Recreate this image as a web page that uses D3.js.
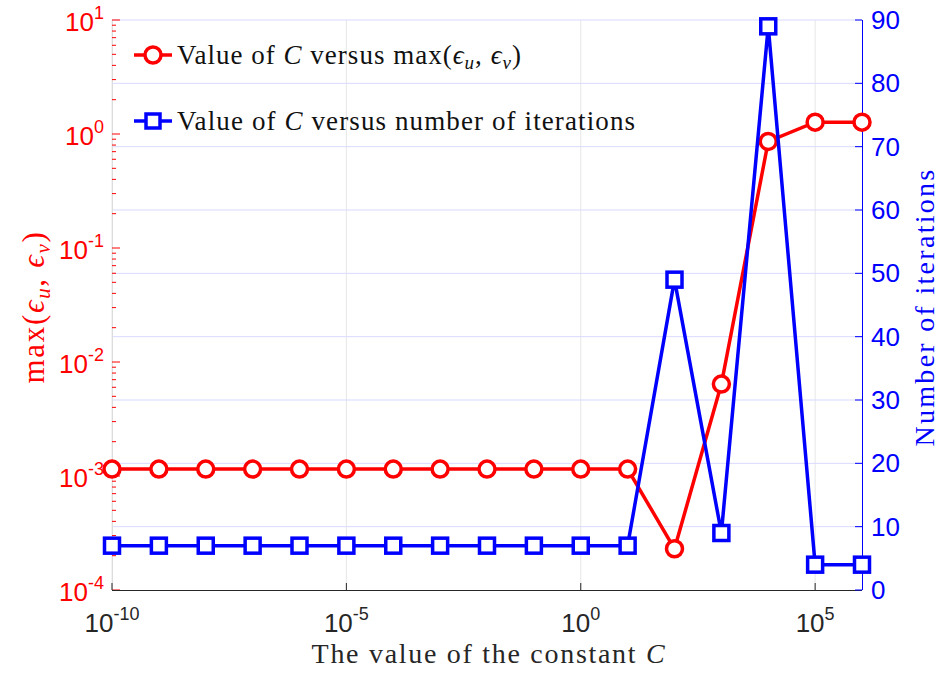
<!DOCTYPE html>
<html>
<head>
<meta charset="utf-8">
<script src="https://cdn.jsdelivr.net/npm/d3@7"></script>
<style>
  body { margin: 0; background: #fff; }
  svg { display: block; }
</style>
</head>
<body>
<div id="chart"></div>
<script>
// values of the constant C
const cValues = [1e-10, 1e-9, 1e-8, 1e-7, 1e-6, 1e-5, 1e-4, 1e-3, 1e-2, 1e-1, 1e0, 1e1, 1e2, 1e3, 1e4, 1e5, 1e6];
// max(eps_u, eps_v)
const errMax = [1.15e-3, 1.15e-3, 1.15e-3, 1.15e-3, 1.15e-3, 1.15e-3, 1.15e-3, 1.15e-3, 1.15e-3, 1.15e-3, 1.15e-3, 1.15e-3, 2.3e-4, 6.4e-3, 0.86, 1.27, 1.27];
// number of iterations
const iterations = [7, 7, 7, 7, 7, 7, 7, 7, 7, 7, 7, 7, 49, 9, 89, 4, 4];

const xTicks = [1e-10, 1e-5, 1e0, 1e5];
const xTickExp = ["-10", "-5", "0", "5"];
const yLeftTicks = [1e-4, 1e-3, 1e-2, 1e-1, 1e0, 1e1];
const yLeftExp = ["-4", "-3", "-2", "-1", "0", "1"];
const yRightTicks = [0, 10, 20, 30, 40, 50, 60, 70, 80, 90];

const width = 940, height = 673;
const pLeft = 112, pRight = 862, pTop = 20, pBottom = 590;
const red = "#ff0000", blue = "#0000ff";
const tickFont = "Liberation Sans, Arial, sans-serif";
const texFont = "Liberation Serif, Times New Roman, serif";

const svg = d3.select("#chart").append("svg")
  .attr("width", width)
  .attr("height", height);

const x = d3.scaleLog().domain([1e-10, 1e6]).range([pLeft, pRight]);
const yL = d3.scaleLog().domain([1e-4, 1e1]).range([pBottom, pTop]);
const yR = d3.scaleLinear().domain([0, 90]).range([pBottom, pTop]);

// stretch serif text to the wider LaTeX look
function fitWidth(sel, target) {
  const node = sel.node();
  const w = node.getComputedTextLength();
  const n = node.textContent.length;
  sel.attr("letter-spacing", ((target - w) / n).toFixed(2));
}

// grid
svg.append("g").selectAll("line")
  .data(xTicks)
  .enter().append("line")
  .attr("x1", d => x(d)).attr("x2", d => x(d))
  .attr("y1", pTop).attr("y2", pBottom)
  .attr("stroke", "#e6e6e6").attr("stroke-width", 1);

svg.append("g").selectAll("line")
  .data(yRightTicks.slice(1))
  .enter().append("line")
  .attr("x1", pLeft).attr("x2", pRight)
  .attr("y1", d => yR(d)).attr("y2", d => yR(d))
  .attr("stroke", "#d9d9ff").attr("stroke-width", 1);

// left axis (log, red ticks)
svg.append("line")
  .attr("x1", pLeft + 0.5).attr("x2", pLeft + 0.5)
  .attr("y1", pTop).attr("y2", pBottom)
  .attr("stroke", "#dcdcdc");

const minor = yL.ticks().filter(d => !yLeftTicks.some(t => Math.abs(t - d) / t < 1e-9));
svg.append("g").selectAll("line")
  .data(minor)
  .enter().append("line")
  .attr("x1", pLeft).attr("x2", pLeft + 4)
  .attr("y1", d => yL(d)).attr("y2", d => yL(d))
  .attr("stroke", red).attr("stroke-width", 1);

svg.append("g").selectAll("line")
  .data(yLeftTicks)
  .enter().append("line")
  .attr("x1", pLeft).attr("x2", pLeft + 8)
  .attr("y1", d => yL(d)).attr("y2", d => yL(d))
  .attr("stroke", red).attr("stroke-width", 1);

const lLab = svg.append("g").selectAll("text")
  .data(yLeftTicks)
  .enter().append("text")
  .attr("x", 104)
  .attr("y", d => yL(d) + 11)
  .attr("text-anchor", "end")
  .attr("font-family", tickFont)
  .attr("font-size", 26)
  .attr("fill", red);
lLab.append("tspan").text("10");
lLab.append("tspan").attr("dy", -12).attr("font-size", 18).text((d, i) => yLeftExp[i]);

// bottom axis
svg.append("line")
  .attr("x1", pLeft).attr("x2", pRight)
  .attr("y1", pBottom + 0.5).attr("y2", pBottom + 0.5)
  .attr("stroke", "#262626").attr("stroke-width", 1.2);

svg.append("g").selectAll("line")
  .data(xTicks)
  .enter().append("line")
  .attr("x1", d => x(d)).attr("x2", d => x(d))
  .attr("y1", pBottom).attr("y2", pBottom - 7)
  .attr("stroke", "#262626");

const xLab = svg.append("g").selectAll("text")
  .data(xTicks)
  .enter().append("text")
  .attr("x", d => x(d))
  .attr("y", 632)
  .attr("text-anchor", "middle")
  .attr("font-family", tickFont)
  .attr("font-size", 26)
  .attr("fill", "#262626");
xLab.append("tspan").text("10");
xLab.append("tspan").attr("dy", -12).attr("font-size", 18).text((d, i) => xTickExp[i]);

// right axis
svg.append("line")
  .attr("x1", pRight + 0.5).attr("x2", pRight + 0.5)
  .attr("y1", pTop).attr("y2", pBottom)
  .attr("stroke", blue).attr("stroke-width", 1);

svg.append("g").selectAll("line")
  .data(yRightTicks)
  .enter().append("line")
  .attr("x1", pRight).attr("x2", pRight - 7)
  .attr("y1", d => yR(d)).attr("y2", d => yR(d))
  .attr("stroke", blue);

svg.append("g").selectAll("text")
  .data(yRightTicks)
  .enter().append("text")
  .attr("x", 871)
  .attr("y", d => yR(d) + 9)
  .attr("font-family", tickFont)
  .attr("font-size", 26)
  .attr("fill", blue)
  .text(d => d);

// series: red first, blue on top
const redLine = d3.line().x((d, i) => x(cValues[i])).y(d => yL(d));
const blueLine = d3.line().x((d, i) => x(cValues[i])).y(d => yR(d));

svg.append("path")
  .datum(errMax)
  .attr("d", redLine)
  .attr("fill", "none").attr("stroke", red).attr("stroke-width", 3.5);

svg.append("g").selectAll("circle")
  .data(errMax)
  .enter().append("circle")
  .attr("cx", (d, i) => x(cValues[i]))
  .attr("cy", d => yL(d))
  .attr("r", 8)
  .attr("fill", "#fff").attr("stroke", red).attr("stroke-width", 3.5);

svg.append("path")
  .datum(iterations)
  .attr("d", blueLine)
  .attr("fill", "none").attr("stroke", blue).attr("stroke-width", 3.5);

svg.append("g").selectAll("rect")
  .data(iterations)
  .enter().append("rect")
  .attr("x", (d, i) => x(cValues[i]) - 7.5)
  .attr("y", d => yR(d) - 7.5)
  .attr("width", 15).attr("height", 15)
  .attr("fill", "#fff").attr("stroke", blue).attr("stroke-width", 3.5);

// legend
const lg = svg.append("g");
lg.append("line").attr("x1", 134).attr("x2", 172).attr("y1", 55).attr("y2", 55)
  .attr("stroke", red).attr("stroke-width", 3.5);
lg.append("circle").attr("cx", 153).attr("cy", 55).attr("r", 8)
  .attr("fill", "#fff").attr("stroke", red).attr("stroke-width", 3.5);
lg.append("line").attr("x1", 134).attr("x2", 172).attr("y1", 121).attr("y2", 121)
  .attr("stroke", blue).attr("stroke-width", 3.5);
lg.append("rect").attr("x", 146).attr("y", 114).attr("width", 14).attr("height", 14)
  .attr("fill", "#fff").attr("stroke", blue).attr("stroke-width", 3.5);

const t1 = lg.append("text").attr("x", 177).attr("y", 64)
  .attr("font-family", texFont).attr("font-size", 27).attr("fill", "#111");
t1.append("tspan").text("Value of ");
t1.append("tspan").attr("font-style", "italic").text("C");
t1.append("tspan").text(" versus max(");
t1.append("tspan").attr("font-style", "italic").text("ϵ");
t1.append("tspan").attr("font-style", "italic").attr("font-size", 19).attr("dy", 5).text("u");
t1.append("tspan").attr("dy", -5).text(", ");
t1.append("tspan").attr("font-style", "italic").text("ϵ");
t1.append("tspan").attr("font-style", "italic").attr("font-size", 19).attr("dy", 5).text("v");
t1.append("tspan").attr("dy", -5).text(")");
fitWidth(t1, 345);

const t2 = lg.append("text").attr("x", 177).attr("y", 130)
  .attr("font-family", texFont).attr("font-size", 27).attr("fill", "#111");
t2.append("tspan").text("Value of ");
t2.append("tspan").attr("font-style", "italic").text("C");
t2.append("tspan").text(" versus number of iterations");
fitWidth(t2, 459);

// axis labels
const xl = svg.append("text")
  .attr("x", 489).attr("y", 663)
  .attr("text-anchor", "middle")
  .attr("font-family", texFont).attr("font-size", 28).attr("fill", "#262626");
xl.append("tspan").text("The value of the constant ");
xl.append("tspan").attr("font-style", "italic").text("C");
fitWidth(xl, 355);

const yl = svg.append("text")
  .attr("transform", `translate(44,307) rotate(-90)`)
  .attr("text-anchor", "middle")
  .attr("font-family", texFont).attr("font-size", 31).attr("fill", red);
yl.append("tspan").text("max(");
yl.append("tspan").attr("font-style", "italic").text("ϵ");
yl.append("tspan").attr("font-style", "italic").attr("font-size", 21).attr("dy", 6).text("u");
yl.append("tspan").attr("dy", -6).text(", ");
yl.append("tspan").attr("font-style", "italic").text("ϵ");
yl.append("tspan").attr("font-style", "italic").attr("font-size", 21).attr("dy", 6).text("v");
yl.append("tspan").attr("dy", -6).text(")");
fitWidth(yl, 153);

const yr = svg.append("text")
  .attr("transform", `translate(934,307) rotate(-90)`)
  .attr("text-anchor", "middle")
  .attr("font-family", texFont).attr("font-size", 28).attr("fill", blue)
  .text("Number of iterations");
fitWidth(yr, 279);
</script>
</body>
</html>
